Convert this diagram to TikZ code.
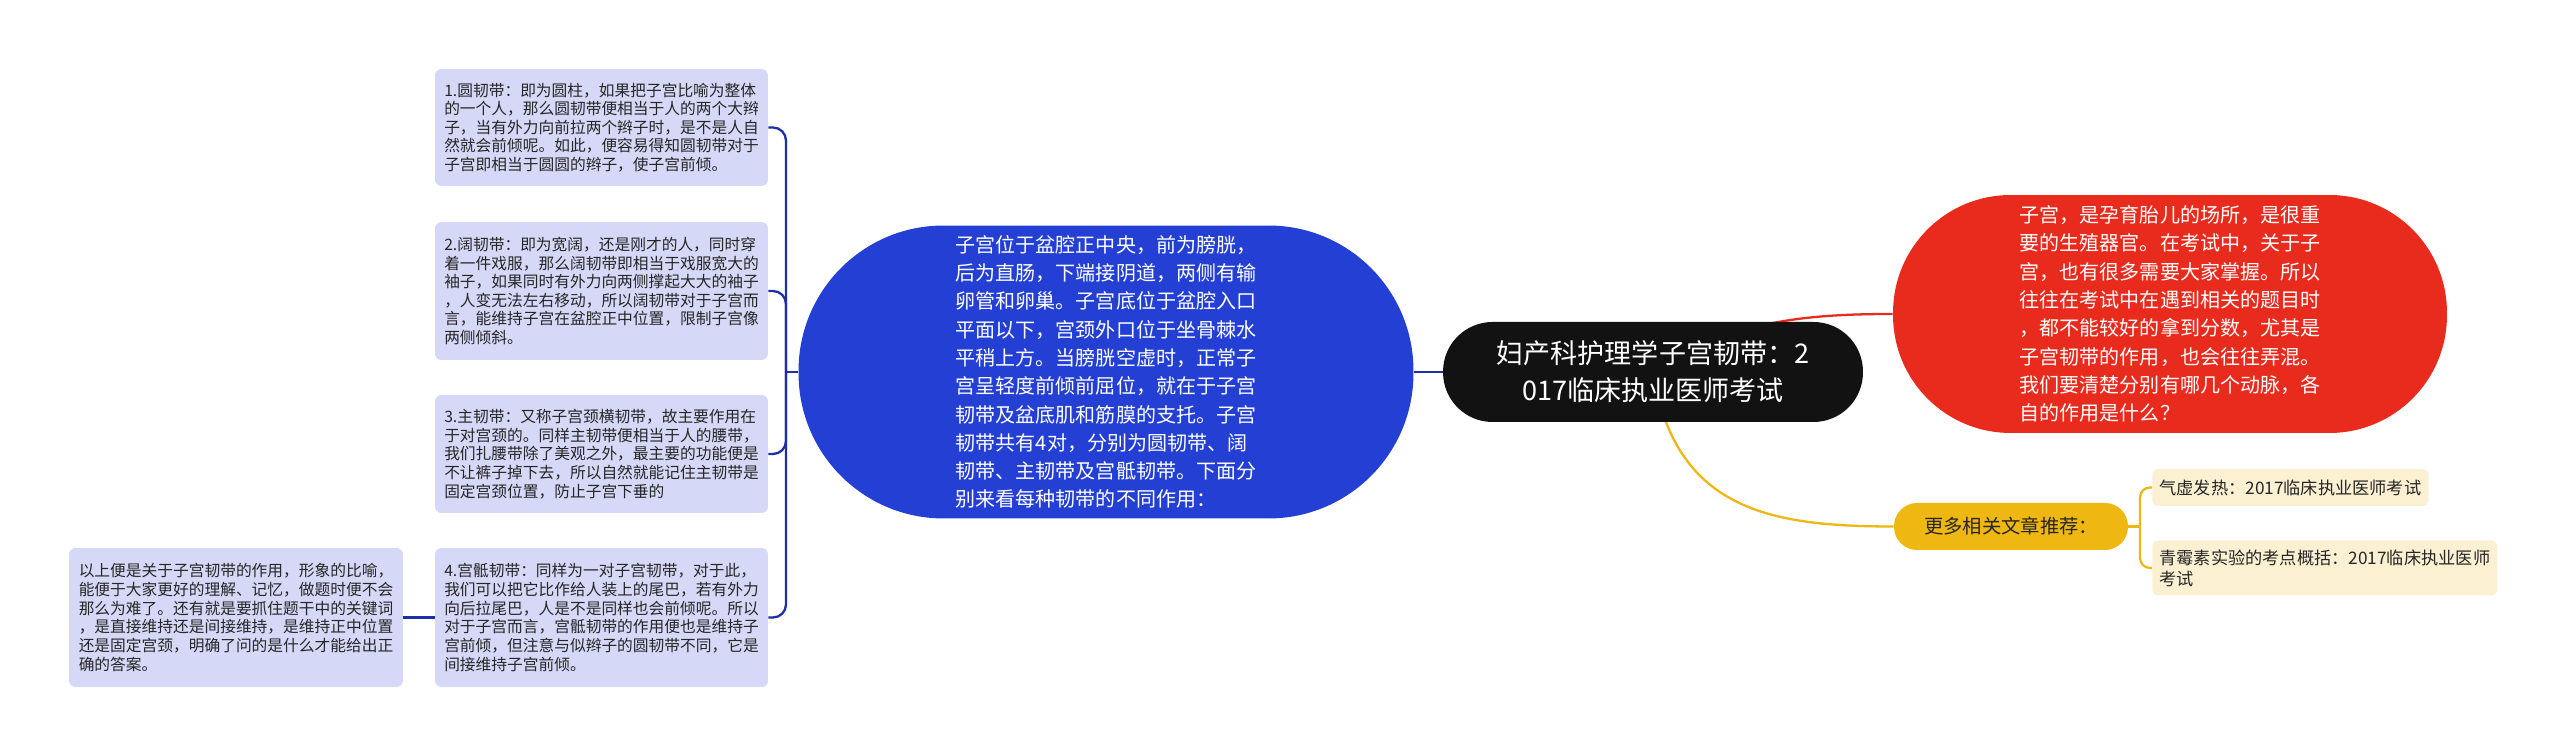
\documentclass[tikz,border=0pt]{standalone}
\usepackage{fontspec}
\setmainfont{Noto Sans CJK SC}
\usetikzlibrary{backgrounds}
\definecolor{myroot}{HTML}{121212}
\definecolor{myblue}{HTML}{2440D4}
\definecolor{myred}{HTML}{E92B1E}
\definecolor{myyellow}{HTML}{EEB712}
\definecolor{mylav}{HTML}{D5D8F6}
\definecolor{mycream}{HTML}{FCF0D2}
\definecolor{mynavy}{HTML}{1E2EA6}
\colorlet{mytext}{black!85}

\begin{document}
\begin{tikzpicture}[x=0.02cm, y=0.02cm]
\tikzset{topic/.style ={rectangle, fill=myroot, text=white, align=center, inner sep=0, minimum width=8.4cm, minimum height=2cm, rounded corners=0.99cm, font=\fontsize{15.4pt}{21pt}\selectfont}}
\node[topic] (root) at (1653,384) {妇产科护理学子宫韧带：2\\017临床执业医师考试};
\tikzset{bubble/.style ={rectangle, text=white, align=left, inner sep=0, font=\fontsize{11.4pt}{16.1pt}\selectfont}}
\node[bubble, fill=myblue, minimum width=12.3cm, minimum height=5.86cm, rounded corners=2.9cm] (uterus) at (1106,384) {子宫位于盆腔正中央，前为膀胱，\\后为直肠，下端接阴道，两侧有输\\卵管和卵巢。子宫底位于盆腔入口\\平面以下，宫颈外口位于坐骨棘水\\平稍上方。当膀胱空虚时，正常子\\宫呈轻度前倾前屈位，就在于子宫\\韧带及盆底肌和筋膜的支托。子宫\\韧带共有4对，分别为圆韧带、阔\\韧带、主韧带及宫骶韧带。下面分\\别来看每种韧带的不同作用：};
\node[bubble, fill=myred, minimum width=11.08cm, minimum height=4.76cm, rounded corners=2.35cm] (intro) at (2170,442) {子宫，是孕育胎儿的场所，是很重\\要的生殖器官。在考试中，关于子\\宫，也有很多需要大家掌握。所以\\往往在考试中在遇到相关的题目时\\，都不能较好的拿到分数，尤其是\\子宫韧带的作用，也会往往弄混。\\我们要清楚分别有哪几个动脉，各\\自的作用是什么？};
\tikzset{card/.style ={rectangle, fill=mylav, text=mytext, align=left, inner sep=0, minimum width=6.66cm, rounded corners=0.13cm, font=\fontsize{8.95pt}{10.6pt}\selectfont}}
\node[card, minimum height=2.34cm] (b1) at (601.5,628.5) {1.圆韧带：即为圆柱，如果把子宫比喻为整体\\的一个人，那么圆韧带便相当于人的两个大辫\\子，当有外力向前拉两个辫子时，是不是人自\\然就会前倾呢。如此，便容易得知圆韧带对于\\子宫即相当于圆圆的辫子，使子宫前倾。};
\node[card, minimum height=2.76cm] (b2) at (601.5,465) {2.阔韧带：即为宽阔，还是刚才的人，同时穿\\着一件戏服，那么阔韧带即相当于戏服宽大的\\袖子，如果同时有外力向两侧撑起大大的袖子\\，人变无法左右移动，所以阔韧带对于子宫而\\言，能维持子宫在盆腔正中位置，限制子宫像\\两侧倾斜。};
\node[card, minimum height=2.36cm] (b3) at (601.5,302) {3.主韧带：又称子宫颈横韧带，故主要作用在\\于对宫颈的。同样主韧带便相当于人的腰带，\\我们扎腰带除了美观之外，最主要的功能便是\\不让裤子掉下去，所以自然就能记住主韧带是\\固定宫颈位置，防止子宫下垂的};
\node[card, minimum height=2.78cm] (b4) at (601.5,138.5) {4.宫骶韧带：同样为一对子宫韧带，对于此，\\我们可以把它比作给人装上的尾巴，若有外力\\向后拉尾巴，人是不是同样也会前倾呢。所以\\对于子宫而言，宫骶韧带的作用便也是维持子\\宫前倾，但注意与似辫子的圆韧带不同，它是\\间接维持子宫前倾。};
\node[card, minimum height=2.78cm, minimum width=6.68cm] (b5) at (236,138.5) {以上便是关于子宫韧带的作用，形象的比喻，\\能便于大家更好的理解、记忆，做题时便不会\\那么为难了。还有就是要抓住题干中的关键词\\，是直接维持还是间接维持，是维持正中位置\\还是固定宫颈，明确了问的是什么才能给出正\\确的答案。};
\tikzset{more/.style ={rectangle, fill=myyellow, text=mytext, inner sep=0, minimum width=4.68cm, minimum height=0.94cm, rounded corners=0.46cm, font=\fontsize{11pt}{13pt}\selectfont}}
\node[more] (more) at (2011,229.5) {更多相关文章推荐：};
\tikzset{linkbox/.style ={rectangle, anchor=west, fill=mycream, text=mytext, align=left, inner xsep=0.14cm, inner ysep=0, rounded corners=0.12cm, font=\fontsize{9.8pt}{12pt}\selectfont}}
\node[linkbox, minimum height=0.74cm] (l1) at (2152,268.5) {气虚发热：2017临床执业医师考试};
\node[linkbox, minimum height=1.1cm] (l2) at (2152,188) {青霉素实验的考点概括：2017临床执业医师\\考试};
\coordinate (j1) at (786,384);
\coordinate (j2) at (2140,229.5);
\tikzset{wire/.style ={line width=1.3pt}}
\draw[wire, mynavy] (root.west) -- (uterus.east);
\draw[wire, mynavy] (uterus.west) -- (j1);
\foreach \b in {b1,b2,b3,b4}
  \draw[wire, mynavy, rounded corners=0.26cm] (j1) |- (\b.east);
\draw[wire, mynavy] (b4.west) -- (b5.east);
\draw[wire, myyellow] (more.east) -- (j2);
\foreach \l in {l1,l2}
  \draw[wire, myyellow, rounded corners=0.2cm] (j2) |- (\l.west);
\begin{pgfonlayer}{background}
\fill[white] (0,0) rectangle (2560,756);
\draw[wire, myred] (root.center) .. controls (1730,434) and (1800,442) .. (intro.west);
\draw[wire, myyellow] (root.center) .. controls (1675,246) and (1770,229.5) .. (more.west);
\end{pgfonlayer}
\end{tikzpicture}
\end{document}
